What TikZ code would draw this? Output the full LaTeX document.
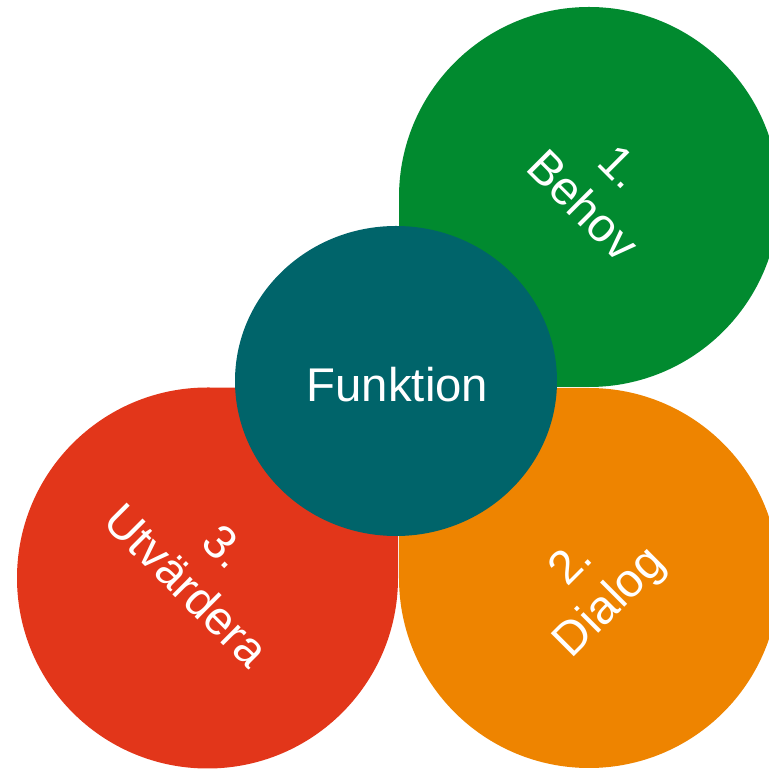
\documentclass[tikz,border=0pt]{standalone}
\usepackage{fontspec}
\setmainfont{Liberation Sans}
\definecolor{cgreen}{HTML}{018A2F}
\definecolor{corange}{HTML}{EE8400}
\definecolor{cred}{HTML}{E2361A}
\definecolor{cteal}{HTML}{00646A}
\usetikzlibrary{shapes.geometric}
\begin{document}
\begin{tikzpicture}[x=1bp,y=1bp,
  lbl/.style={text=white, align=center, font=\fontsize{47.5}{54.5}\selectfont, inner sep=0pt},
  hub/.style={ellipse, fill=cteal, minimum width=322bp, minimum height=310bp, inner sep=0pt}]
\useasboundingbox (0,0) rectangle (769,769);
\clip (0,0) rectangle (769,769);
% petals
\fill[cgreen] (399,382) -- (399,572) arc[start angle=180,end angle=-90,radius=190] -- cycle;
\fill[corange] (399,381) -- (589,381) arc[start angle=90,end angle=-180,radius=190] -- cycle;
\fill[cred] (398,381) -- (398,191) arc[start angle=0,end angle=-270,radius=190.5] -- cycle;
% hub
\node[hub] (hub) at (396,388) {};
% texts
\node[lbl,anchor=base] (ft) at (397.5,367) {Funktion};
\node[lbl,rotate=-45] (gt) at (602,583) {1.\\Behov};
\node[lbl,rotate=45] (ot) at (592,184) {2.\\Dialog};
\node[lbl,rotate=-45] (rt) at (206,203) {3.\\Utvärdera};
\end{tikzpicture}
\end{document}
